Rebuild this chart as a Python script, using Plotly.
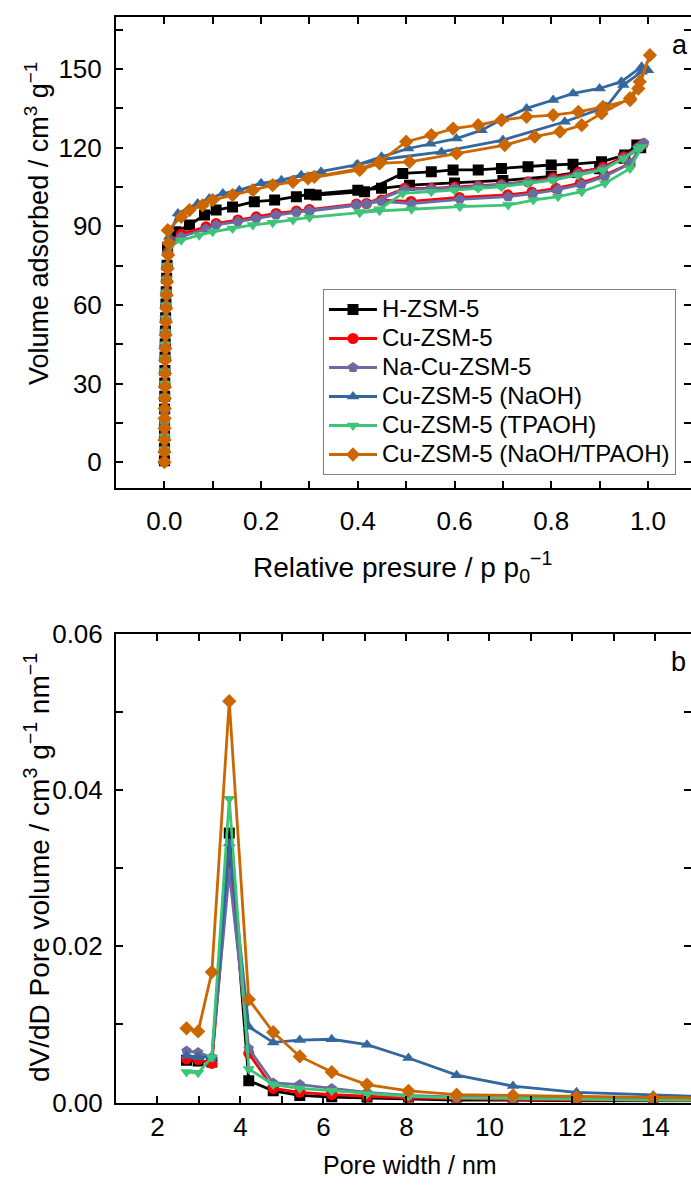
import plotly.graph_objects as go

# ---------------- Panel a: N2 isotherms ----------------
names = ["H-ZSM-5", "Cu-ZSM-5", "Na-Cu-ZSM-5", "Cu-ZSM-5 (NaOH)", "Cu-ZSM-5 (TPAOH)", "Cu-ZSM-5 (NaOH/TPAOH)"]
colors = ["#000000", "#FF0000", "#6B6BA3", "#33679E", "#3CC477", "#CC6600"]
symbols = ["square", "circle", "pentagon", "triangle-up", "triangle-down", "diamond"]

p_h = [0.0001, 0.0002, 0.0003, 0.0004, 0.0005, 0.0007, 0.0009, 0.0011, 0.0014, 0.0017, 0.0021, 0.0026, 0.0032, 0.0039, 0.0047, 0.0056, 0.0066,
       0.024, 0.052, 0.083, 0.107, 0.141, 0.186, 0.228, 0.273, 0.30, 0.40, 0.449, 0.507, 0.60, 0.70, 0.80, 0.85, 0.90, 0.95, 0.985,
       0.977, 0.952, 0.904, 0.845, 0.80, 0.752, 0.697, 0.649, 0.597, 0.552, 0.493, 0.414, 0.314]
v_h = [0.5, 5.2, 10.1, 15.0, 20.3, 25.1, 30.2, 35.0, 40.1, 45.2, 50.0, 55.1, 60.3, 65.0, 70.2, 75.1, 82.0,
       87.9, 90.5, 94.3, 96.2, 97.4, 99.4, 100.0, 101.3, 102.2, 103.8, 104.5, 105.7, 106.5, 107.5, 109.0, 110.5, 112.0, 116.0, 120.0,
       121.0, 117.2, 114.6, 113.7, 113.4, 112.7, 112.1, 111.5, 111.5, 110.8, 110.2, 103.2, 101.9]

p_cu = [0.0001, 0.0002, 0.0003, 0.0004, 0.0005, 0.0007, 0.0009, 0.0011, 0.0014, 0.0017, 0.0021, 0.0026, 0.0032, 0.0039, 0.0047, 0.0056, 0.0068,
        0.012, 0.035, 0.086, 0.107, 0.152, 0.19, 0.231, 0.273, 0.30, 0.397, 0.449, 0.51, 0.61, 0.71, 0.76, 0.81, 0.86, 0.91, 0.963, 0.99,
        0.98, 0.95, 0.907, 0.856, 0.804, 0.752, 0.697, 0.649, 0.60, 0.552, 0.497, 0.418, 0.30]
v_cu = [0.2, 4.8, 9.9, 14.6, 19.8, 24.7, 29.8, 34.5, 39.7, 44.6, 49.8, 54.7, 59.6, 64.8, 69.9, 74.6, 80.0,
        84.5, 87.0, 89.8, 91.1, 92.4, 93.6, 94.9, 95.8, 96.4, 98.5, 100.0, 99.5, 101.0, 102.0, 103.0, 104.5, 106.5, 109.5, 114.0, 121.5,
        120.0, 116.5, 112.5, 110.5, 108.5, 107.0, 106.0, 105.5, 105.0, 104.5, 104.5, 98.7, 96.2]

p_na = [0.0001, 0.0002, 0.0003, 0.0004, 0.0005, 0.0007, 0.0009, 0.0011, 0.0014, 0.0017, 0.0021, 0.0026, 0.0032, 0.0039, 0.0047, 0.0056, 0.0068,
        0.012, 0.035, 0.086, 0.107, 0.152, 0.19, 0.231, 0.273, 0.30, 0.397, 0.449, 0.511, 0.611, 0.711, 0.763, 0.814, 0.863, 0.911, 0.963, 0.992,
        0.98, 0.95, 0.907, 0.856, 0.804, 0.752, 0.697, 0.649, 0.60, 0.552, 0.497, 0.418, 0.30]
v_na = [0.0, 4.6, 9.7, 14.8, 19.6, 24.9, 29.6, 34.8, 39.5, 44.8, 49.6, 54.9, 59.8, 64.6, 69.7, 74.8, 79.5,
        83.5, 86.0, 89.0, 90.5, 91.8, 93.0, 94.3, 95.3, 96.0, 98.2, 99.5, 98.7, 100.3, 101.3, 102.5, 104.0, 106.0, 109.0, 114.0, 121.8,
        120.3, 116.0, 112.0, 110.0, 108.0, 106.8, 105.8, 105.2, 104.6, 104.2, 104.0, 98.5, 95.8]

p_naoh = [0.0001, 0.0002, 0.0003, 0.0004, 0.0005, 0.0007, 0.0009, 0.0011, 0.0014, 0.0017, 0.0021, 0.0026, 0.0032, 0.0039, 0.0047, 0.0056, 0.0068,
          0.01, 0.028, 0.069, 0.093, 0.121, 0.155, 0.20, 0.242, 0.283, 0.324, 0.397, 0.449, 0.573, 0.70, 0.828, 0.914, 0.949, 0.987,
          1.0, 0.987, 0.945, 0.90, 0.845, 0.804, 0.749, 0.70, 0.656, 0.604, 0.55, 0.504, 0.449, 0.40]
v_naoh = [0.3, 5.0, 10.2, 15.1, 20.0, 25.2, 30.0, 35.3, 40.2, 45.0, 50.3, 55.2, 60.0, 65.3, 70.1, 75.0, 80.5,
          86.0, 94.9, 98.7, 100.6, 102.5, 103.8, 106.4, 107.6, 109.5, 110.8, 113.4, 115.5, 118.4, 122.9, 129.9, 135.6, 143.9, 149.0,
          149.6, 150.9, 145.2, 142.6, 140.7, 138.2, 135.0, 131.0, 126.7, 123.5, 121.5, 119.7, 116.5, 113.6]

p_tpa = [0.0001, 0.0002, 0.0003, 0.0004, 0.0005, 0.0007, 0.0009, 0.0011, 0.0014, 0.0017, 0.0021, 0.0026, 0.0032, 0.0039, 0.0047, 0.0056, 0.0068,
         0.012, 0.035, 0.072, 0.10, 0.141, 0.183, 0.224, 0.266, 0.30, 0.404, 0.445, 0.511, 0.611, 0.711, 0.763, 0.814, 0.863, 0.911, 0.963, 0.987,
         0.98, 0.949, 0.907, 0.856, 0.804, 0.752, 0.697, 0.649, 0.60, 0.552, 0.493, 0.445, 0.404]
v_tpa = [0.1, 4.9, 9.8, 14.9, 19.7, 24.8, 29.9, 34.7, 39.8, 44.9, 49.7, 54.8, 59.9, 64.7, 69.8, 74.9, 79.0,
         82.5, 84.7, 86.6, 87.9, 89.2, 90.5, 91.4, 92.4, 93.4, 95.2, 95.9, 96.5, 97.5, 98.1, 100.0, 101.3, 103.2, 106.4, 112.1, 120.3,
         119.5, 115.9, 111.5, 109.5, 107.6, 106.4, 105.1, 104.5, 103.8, 103.2, 102.6, 96.5, 95.5]

p_both = [0.0001, 0.0002, 0.0003, 0.0004, 0.0005, 0.0007, 0.0009, 0.0011, 0.0014, 0.0017, 0.0021, 0.0026, 0.0032, 0.0039, 0.0047, 0.0056, 0.0066, 0.0078, 0.0090,
          0.007, 0.035, 0.052, 0.079, 0.10, 0.141, 0.183, 0.224, 0.266, 0.297, 0.404, 0.445, 0.507, 0.604, 0.704, 0.766, 0.818, 0.863, 0.904, 0.963, 0.983, 1.004,
          0.980, 0.963, 0.907, 0.856, 0.804, 0.749, 0.697, 0.649, 0.597, 0.552, 0.50, 0.445, 0.404, 0.31]
v_both = [0.0, 3.9, 8.4, 12.9, 16.7, 20.5, 24.3, 28.7, 33.8, 38.9, 43.4, 48.5, 53.5, 58.7, 63.7, 68.8, 73.9, 79.0, 83.5,
          88.5, 93.6, 96.2, 98.0, 100.0, 101.9, 103.8, 105.7, 107.0, 108.3, 111.5, 114.0, 114.6, 117.8, 121.0, 124.2, 126.1, 128.6, 133.1, 138.9, 145.2, 155.3,
          142.6, 138.2, 135.6, 133.7, 132.4, 131.8, 130.5, 128.6, 127.3, 124.8, 122.3, 114.5, 112.0, 108.9]

iso_p = [p_h, p_cu, p_na, p_naoh, p_tpa, p_both]
iso_v = [v_h, v_cu, v_na, v_naoh, v_tpa, v_both]

# ---------------- Panel b: pore size distribution ----------------
pore_w = [2.70, 2.98, 3.31, 3.73, 4.20, 4.79, 5.43, 6.20, 7.05, 8.05, 9.21, 10.57, 12.10, 13.95, 16.2]
psd_h = [0.0054, 0.0053, 0.0052, 0.0345, 0.0028, 0.0015, 0.0009, 0.0007, 0.0006, 0.0004, 0.0003, 0.0003, 0.0002, 0.0002, 0.0002]
psd_cu = [0.0056, 0.0055, 0.0050, 0.0310, 0.0063, 0.0018, 0.0013, 0.0010, 0.0008, 0.0006, 0.0005, 0.0004, 0.0003, 0.0003, 0.0002]
psd_na = [0.0066, 0.0064, 0.0058, 0.0295, 0.0069, 0.0025, 0.0023, 0.0018, 0.0013, 0.0009, 0.0007, 0.0006, 0.0005, 0.0004, 0.0003]
psd_naoh = [0.0060, 0.0058, 0.0058, 0.0332, 0.0097, 0.0077, 0.0080, 0.0081, 0.0074, 0.0057, 0.0035, 0.0021, 0.0013, 0.0009, 0.0006]
psd_tpa = [0.0039, 0.0038, 0.0058, 0.0389, 0.0043, 0.0023, 0.0018, 0.0015, 0.0011, 0.0008, 0.0006, 0.0005, 0.0004, 0.0003, 0.0003]
psd_both = [0.0095, 0.0091, 0.0167, 0.0514, 0.0132, 0.0090, 0.0059, 0.0039, 0.0023, 0.0015, 0.0010, 0.0009, 0.0007, 0.0006, 0.0005]
psd = [psd_h, psd_cu, psd_na, psd_naoh, psd_tpa, psd_both]

FONT = "Liberation Sans, Arial, sans-serif"
W, H = 691, 1187
ML = 116
plot_w = W - ML

fig = go.Figure()
for i in range(6):
    fig.add_trace(go.Scatter(
        x=iso_p[i], y=iso_v[i], mode="lines+markers",
        name='<span style="font-size:24px">' + names[i] + '</span>',
        line=dict(color=colors[i], width=2.8),
        marker=dict(symbol=symbols[i], size=11, color=colors[i], line=dict(width=0)),
        xaxis="x", yaxis="y", showlegend=True))
for i in range(6):
    fig.add_trace(go.Scatter(
        x=pore_w, y=psd[i], mode="lines+markers", name=names[i],
        line=dict(color=colors[i], width=2.8),
        marker=dict(symbol=symbols[i], size=11, color=colors[i], line=dict(width=0)),
        xaxis="x2", yaxis="y2", showlegend=False))
# empty traces so that the right-hand tick-only axes are drawn
fig.add_trace(go.Scatter(x=[], y=[], xaxis="x", yaxis="y3", showlegend=False, hoverinfo="skip"))
fig.add_trace(go.Scatter(x=[], y=[], xaxis="x2", yaxis="y4", showlegend=False, hoverinfo="skip"))


def px_to_paper_y(py):
    return 1 - py / H


def px_to_paper_x(px):
    return (px - ML) / plot_w


dom_a = [px_to_paper_y(488.3), px_to_paper_y(16.7)]
dom_b = [px_to_paper_y(1102.5), px_to_paper_y(634)]

tickfont = dict(family=FONT, size=26, color="black")
minor_style = dict(ticks="inside", ticklen=7, tickwidth=2, tickcolor="black")
common = dict(showline=True, linecolor="black", linewidth=2, ticks="inside", ticklen=7, automargin=False,
              tickwidth=2, tickcolor="black", showgrid=False, zeroline=False, tickfont=tickfont)
right_common = dict(side="right", showline=False, ticks="inside", ticklen=7, tickwidth=2, tickcolor="black",
                    showticklabels=False, showgrid=False, zeroline=False, automargin=False)

fig.update_layout(
    template="none",
    width=W, height=H,
    margin=dict(l=ML, r=0, t=0, b=0, autoexpand=False),
    paper_bgcolor="white", plot_bgcolor="white",
    font=dict(family=FONT, color="black"),
    xaxis=dict(domain=[0, 1], anchor="y", range=[-0.1, 1.089], dtick=0.2, tick0=0, tickformat=".1f",
               mirror="ticks", ticklabelstandoff=8, minor=dict(dtick=0.1, tick0=0, **minor_style), **common),
    yaxis=dict(domain=dom_a, anchor="x", range=[-10, 170], dtick=30, tick0=0, ticklabelstandoff=7,
               minor=dict(dtick=15, tick0=0, **minor_style), **common),
    yaxis3=dict(domain=dom_a, anchor="x", overlaying="y", range=[-10, 170], dtick=30, tick0=0,
                minor=dict(dtick=15, tick0=0, **minor_style), **right_common),
    xaxis2=dict(domain=[0, 1], anchor="y2", range=[1, 14.86], dtick=2, tick0=0, mirror="ticks", ticklabelstandoff=0,
                minor=dict(dtick=1, tick0=0, **minor_style), **common),
    yaxis2=dict(domain=dom_b, anchor="x2", range=[0, 0.06], dtick=0.02, tick0=0, tickformat=".2f", ticklabelstandoff=6,
                minor=dict(dtick=0.01, tick0=0, **minor_style), **common),
    yaxis4=dict(domain=dom_b, anchor="x2", overlaying="y2", range=[0, 0.06], dtick=0.02, tick0=0,
                minor=dict(dtick=0.01, tick0=0, **minor_style), **right_common),
    legend=dict(x=px_to_paper_x(323), y=px_to_paper_y(289), xanchor="left", yanchor="top",
                bgcolor="white", bordercolor="#808080", borderwidth=1, itemwidth=48,
                font=dict(family=FONT, size=20, color="black"), tracegroupgap=0),
    showlegend=True,
)

fig.add_annotation(text="Relative presure / p p<sub>0</sub><sup>−1</sup>", x=px_to_paper_x(402), y=px_to_paper_y(567),
                   xref="paper", yref="paper", showarrow=False, xanchor="center", yanchor="middle",
                   font=dict(family=FONT, size=28, color="black"))
fig.add_annotation(text="Pore width / nm", x=px_to_paper_x(410), y=px_to_paper_y(1165),
                   xref="paper", yref="paper", showarrow=False, xanchor="center", yanchor="middle",
                   font=dict(family=FONT, size=25, color="black"))
fig.add_annotation(text="Volume adsorbed / cm<sup>3</sup> g<sup>−1</sup>", x=px_to_paper_x(37), y=px_to_paper_y(224),
                   xref="paper", yref="paper", showarrow=False, xanchor="center", yanchor="middle", textangle=-90,
                   font=dict(family=FONT, size=27, color="black"))
fig.add_annotation(text="dV/dD Pore volume / cm<sup>3</sup> g<sup>−1</sup> nm<sup>−1</sup>", x=px_to_paper_x(37), y=px_to_paper_y(868),
                   xref="paper", yref="paper", showarrow=False, xanchor="center", yanchor="middle", textangle=-90,
                   font=dict(family=FONT, size=28, color="black"))
fig.add_annotation(text="a", x=px_to_paper_x(680), y=px_to_paper_y(45), xref="paper", yref="paper",
                   showarrow=False, xanchor="center", yanchor="middle", font=dict(family=FONT, size=27, color="black"))
fig.add_annotation(text="b", x=px_to_paper_x(678), y=px_to_paper_y(662), xref="paper", yref="paper",
                   showarrow=False, xanchor="center", yanchor="middle", font=dict(family=FONT, size=27, color="black"))

fig.write_html("out.html")
